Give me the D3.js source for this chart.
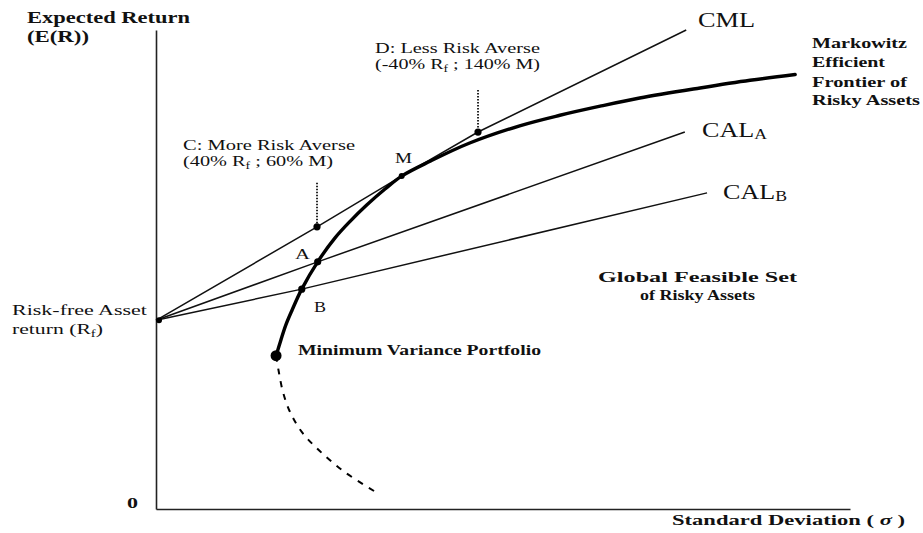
<!DOCTYPE html>
<html><head><meta charset="utf-8">
<script src="https://cdn.jsdelivr.net/npm/d3@7"></script>
<style>html,body{margin:0;padding:0;background:#fff;} svg{display:block;} text{font-family:"Liberation Serif","DejaVu Serif",serif;fill:#111;}</style>
</head><body>
<svg id="c" width="923" height="533"></svg>
<script>
// ---- data (sigma = standard deviation, ret = expected return, arbitrary units) ----
const rf = [0, 39.4];
const frontierSigma  = [17.3,18.0,18.7,19.6,21.0,23.3,25.8,28.0,30.4,33.0,35.4,39.5,45.2,52.4,58.2,64.0,69.7,78.4,85.6,92.1];
const frontierReturn = [32.0,35.3,38.4,41.5,45.9,51.6,56.6,60.1,63.5,66.8,69.5,72.6,76.4,80.0,82.2,84.1,85.8,87.9,89.5,90.7];
const lowerSigma  = [17.3,17.7,18.3,19.3,21.0,23.6,27.2,31.6];
const lowerReturn = [32.0,28.6,24.4,20.3,16.1,12.1,7.7,3.6];
const cmlSigma  = [0, 23.2, 35.4, 46.4, 76.4];
const cmlReturn = [39.4, 58.9, 69.5, 78.7, 100];
const calASigma  = [0, 23.3, 76.2];
const calAReturn = [39.4, 51.6, 78.7];
const calBSigma  = [0, 21.0, 79.4];
const calBReturn = [39.4, 45.9, 66.0];
const pointNames  = ["C","D","A","B","M"];
const pointSigma  = [23.2, 46.4, 23.3, 21.0, 35.4];
const pointReturn = [58.9, 78.7, 51.6, 45.9, 69.5];
const minVar = [17.3, 32.0];
const dottedTops = {C: 68.1, D: 87.5};

const svg = d3.select("#c");
const x = d3.scaleLinear().domain([0,100]).range([156,850]);
const y = d3.scaleLinear().domain([0,100]).range([509,30]);
const zip = (a,b)=>a.map((v,i)=>[v,b[i]]);
const line = d3.line().x(d=>x(d[0])).y(d=>y(d[1]));

// axes
const gx = svg.append("g").attr("transform","translate(0,509)")
  .call(d3.axisBottom(x).tickValues([]).tickSizeOuter(0));
const gy = svg.append("g").attr("transform","translate(156,0)")
  .call(d3.axisLeft(y).tickValues([]).tickSizeOuter(0));
[gx,gy].forEach(g=>g.select(".domain").attr("stroke","#222").attr("stroke-width",1.6));

// lines
[[cmlSigma,cmlReturn],[calASigma,calAReturn],[calBSigma,calBReturn]].forEach(([s,r])=>{
  svg.append("path").attr("d",line(zip(s,r))).attr("fill","none").attr("stroke","#111").attr("stroke-width",1.5);
});
const smooth = d3.line().x(d=>x(d[0])).y(d=>y(d[1])).curve(d3.curveCatmullRom);
svg.append("path").attr("d",smooth(zip(frontierSigma,frontierReturn)))
  .attr("fill","none").attr("stroke","#000").attr("stroke-width",3.4).attr("stroke-linecap","round");
svg.append("path").attr("d",smooth(zip(lowerSigma,lowerReturn)))
  .attr("fill","none").attr("stroke","#000").attr("stroke-width",2).attr("stroke-dasharray","6,7");

// dotted verticals
["C","D"].forEach(n=>{
  const i = pointNames.indexOf(n);
  svg.append("line").attr("x1",x(pointSigma[i])).attr("x2",x(pointSigma[i]))
    .attr("y1",y(dottedTops[n])).attr("y2",y(pointReturn[i]))
    .attr("stroke","#111").attr("stroke-width",1.8).attr("stroke-dasharray","1.5,1.5");
});

// points
pointNames.forEach((n,i)=>{
  svg.append("circle").attr("cx",x(pointSigma[i])).attr("cy",y(pointReturn[i]))
    .attr("r", n==="M"?3:3.6).attr("fill","#000");
});
svg.append("circle").attr("cx",x(rf[0])+3).attr("cy",y(rf[1])).attr("r",3).attr("fill","#000");
svg.append("circle").attr("cx",x(minVar[0])).attr("cy",y(minVar[1])).attr("r",5.5).attr("fill","#000");

// text helper
function txt(str, px, py, size, weight, len){
  const t = svg.append("text").attr("x",px).attr("y",py).attr("font-size",size).attr("font-weight",weight||"normal");
  if (Array.isArray(str)) {
    str.forEach(p=>{
      const ts = t.append("tspan").text(p.t);
      if (p.sub) ts.attr("font-size",size*0.68).attr("dy",p.dy||3);
      if (p.up) ts.attr("dy",-(p.dy||3));
      if (p.it) ts.attr("font-style","italic");
    });
  } else t.text(str);
  if (len) t.attr("textLength",len).attr("lengthAdjust","spacingAndGlyphs");
  return t;
}

txt("Expected Return", 27, 23, 16, "bold", 163);
txt("(E(R))", 27, 42, 16, "bold", 62);
txt("CML", 698, 27, 20, "normal", 57);
txt("Markowitz", 812, 48, 15, "bold", 95);
txt("Efficient", 812, 67, 15, "bold", 73);
txt("Frontier of", 812, 87, 15, "bold", 95);
txt("Risky Assets", 812, 105, 15, "bold", 108);
txt("D: Less Risk Averse", 375, 53, 15, "normal", 165);
txt([{t:"(-40% R"},{t:"f",sub:true},{t:" ; 140% M)",up:true}], 375, 69, 15, "normal", 165);
txt("C: More Risk Averse", 183, 150, 15, "normal", 172);
txt([{t:"(40% R"},{t:"f",sub:true},{t:" ; 60% M)",up:true}], 183, 166, 15, "normal", 150);
txt("M", 395, 163, 14, "normal", 17);
txt("A", 295, 259, 14, "normal", 15);
txt("B", 314, 312, 14, "normal", 12);
txt([{t:"CAL"},{t:"A",sub:true,dy:2}], 702, 137, 20, "normal", 65);
txt([{t:"CAL"},{t:"B",sub:true,dy:2}], 723, 199, 20, "normal", 64);
txt("Risk-free Asset", 12, 315, 15, "normal", 135);
txt([{t:"return (R"},{t:"f",sub:true},{t:")",up:true}], 12, 334, 15, "normal", 91);
txt("Minimum Variance Portfolio", 298, 355, 15, "bold", 243);
txt("Global Feasible Set", 598, 282, 15, "bold", 199);
txt("of Risky Assets", 640, 300, 15, "bold", 115);
txt([{t:"Standard Deviation ( "},{t:"σ",it:true},{t:" )"}], 672, 525, 15, "bold", 233);
txt("0", 127, 508, 15, "bold", 11);
</script>
</body></html>
